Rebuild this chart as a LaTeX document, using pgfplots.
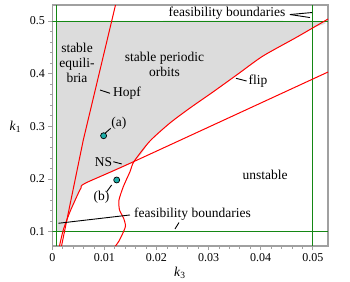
\documentclass[border=0pt]{standalone}
\usepackage{pgfplots}
\pgfplotsset{compat=1.18}
\usepackage{fontspec}
\setmainfont{Liberation Serif}
\definecolor{fgreen}{RGB}{20,135,20}
\definecolor{fgray}{RGB}{220,220,220}
\definecolor{framec}{RGB}{160,160,160}
\definecolor{tealc}{RGB}{30,175,170}
\begin{document}
\begin{tikzpicture}[font=\fontsize{13.5}{16}\selectfont]
\useasboundingbox (-52.3pt,-35pt) rectangle (297.7pt,246pt);
\begin{axis}[
  at={(0pt,0pt)}, anchor=south west,
  width=275.7pt, height=241pt, scale only axis,
  xmin=0, xmax=0.05292, ymin=0.073, ymax=0.5304,
  axis line style={framec, line width=1.2pt},
  scaled x ticks=false, scaled y ticks=false,
  xtick={0,0.01,0.02,0.03,0.04,0.05},
  xticklabels={0,0.01,0.02,0.03,0.04,0.05},
  ytick={0.1,0.2,0.3,0.4,0.5},
  yticklabels={0.1,0.2,0.3,0.4,0.5},
  minor x tick num=4, minor y tick num=4,
  xtick pos=left, ytick pos=left,
  tick align=outside,
  major tick length=4pt, minor tick length=2.5pt,
  tick style={framec, line width=0.8pt},
  tick label style={font=\fontsize{12}{14}\selectfont, text=black},
  /pgf/number format/assume math mode=true,
  xlabel={\textit{k}\textsubscript{3}},
  xlabel style={at={(rel axis cs:0.463,0)}, anchor=center, yshift=-27pt},
  ylabel={\textit{k}\textsubscript{1}},
  ylabel style={at={(rel axis cs:-0.1342,0.4939)}, rotate=-90, anchor=center},
  clip=true,
]
% stable region
\addplot[fill=fgray, draw=none, smooth, tension=0.4] coordinates {
(0.0008,0.5) (0.05,0.5) (0.05,0.4870) (0.04697,0.4696) (0.04044,0.4336)
(0.03564,0.3994) (0.03084,0.3653) (0.02643,0.3349) (0.02259,0.3065)
(0.01875,0.2723) (0.01568,0.2334) (0.00629,0.192) (0.00551,0.1831)
(0.00499,0.1731) (0.0034,0.1381) (0.00211,0.1034) (0.00205,0.1) (0.0008,0.1)
} -- cycle;
% feasibility boundaries
\addplot[fgreen, line width=1pt] coordinates {(0.0008,0.073) (0.0008,0.5304)};
\addplot[fgreen, line width=1pt] coordinates {(0.05,0.073) (0.05,0.5304)};
\addplot[fgreen, line width=1pt] coordinates {(0,0.5) (0.05292,0.5)};
\addplot[fgreen, line width=1pt] coordinates {(0,0.1) (0.05292,0.1)};
% Hopf
\addplot[red, line width=1pt] coordinates {(0.00177,0.073) (0.00595,0.2742) (0.0114,0.5) (0.01213,0.5304)};
% NS
\addplot[red, line width=1pt, smooth, tension=0.4] coordinates {
(0.05292,0.4032) (0.01568,0.2334) (0.00629,0.192) (0.00551,0.1831)
(0.00499,0.1731) (0.0034,0.1381) (0.00211,0.1034) (0.00138,0.073)};
% flip
\addplot[red, line width=1pt, smooth, tension=0.4] coordinates {
(0.05292,0.5038) (0.04697,0.4696) (0.04044,0.4336) (0.03564,0.3994)
(0.03084,0.3653) (0.02643,0.3349) (0.02259,0.3065) (0.01875,0.2723)
(0.01568,0.2334) (0.01491,0.2140) (0.01363,0.1856) (0.0128,0.1603)
(0.0129,0.1414) (0.01367,0.1262) (0.01405,0.1110) (0.01347,0.0958)
(0.0128,0.0825) (0.01213,0.073)};
% points (a), (b)
\addplot[only marks, mark=*, mark size=3pt, mark options={fill=tealc, draw=black, line width=0.7pt}] coordinates {(0.00985,0.2823) (0.01236,0.1983)};
% labels
\node[align=center] at (axis cs:0.00474,0.4203) {stable\\[-1pt]equili-\\[-1pt]bria};
\node[align=center] at (axis cs:0.02154,0.4184) {stable periodic\\[-1pt]orbits};
\node at (axis cs:0.01434,0.3634) {Hopf};
\draw[black, line width=0.9pt] (axis cs:0.00916,0.3691) -- (axis cs:0.01108,0.3628);
\node at (axis cs:0.03948,0.3852) {flip};
\draw[black, line width=0.9pt] (axis cs:0.03526,0.3913) -- (axis cs:0.03731,0.3861);
\node at (axis cs:0.00983,0.2330) {NS};
\draw[black, line width=0.9pt] (axis cs:0.01171,0.2330) -- (axis cs:0.01332,0.2287);
\node at (axis cs:0.0128,0.3059) {(a)};
\draw[black, line width=0.9pt] (axis cs:0.01012,0.2869) -- (axis cs:0.01121,0.2964);
\node at (axis cs:0.00944,0.1655) {(b)};
\draw[black, line width=0.9pt] (axis cs:0.01044,0.1761) -- (axis cs:0.0114,0.1888);
\node at (axis cs:0.03353,0.5152) {feasibility boundaries};
\draw[black, line width=0.9pt] (axis cs:0.04562,0.5123) -- (axis cs:0.04985,0.5161);
\draw[black, line width=0.9pt] (axis cs:0.04562,0.5123) -- (axis cs:0.04946,0.5066);
\node at (axis cs:0.02691,0.1338) {feasibility boundaries};
\draw[black, line width=0.9pt] (axis cs:0.01491,0.1319) -- (axis cs:0.00115,0.1161);
\draw[black, line width=0.9pt] (axis cs:0.02355,0.1053) -- (axis cs:0.02432,0.1176);
\node at (axis cs:0.04083,0.2078) {unstable};
\end{axis}
\end{tikzpicture}
\end{document}
